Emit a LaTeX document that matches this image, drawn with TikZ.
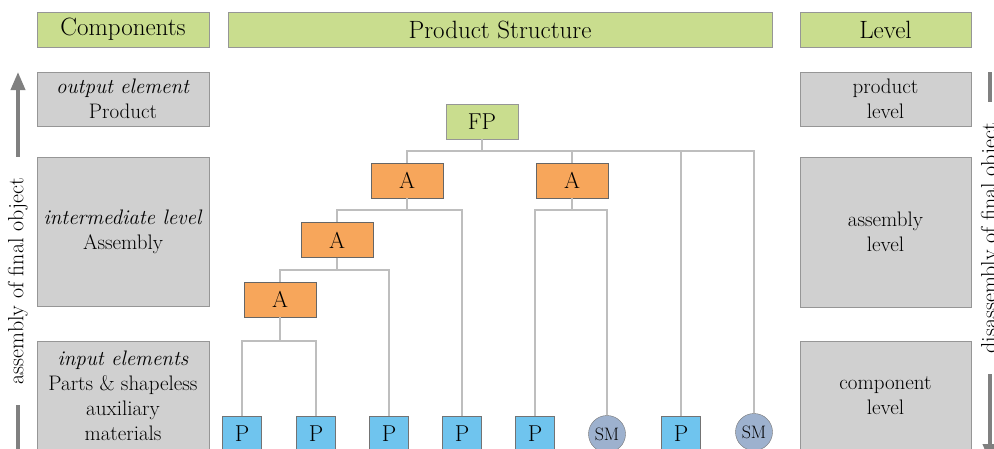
\documentclass[tikz,border=0pt]{standalone}
\usetikzlibrary{arrows.meta}

\definecolor{headgreen}{RGB}{201,221,142}
\definecolor{boxgrey}{RGB}{208,208,208}
\definecolor{edgegrey}{RGB}{150,150,150}
\definecolor{asmorange}{RGB}{247,166,91}
\definecolor{partblue}{RGB}{111,196,238}
\definecolor{smblue}{RGB}{157,177,206}
\definecolor{linkgrey}{RGB}{190,190,190}
\definecolor{flowgrey}{RGB}{128,128,128}

\tikzset{
  headbox/.style={draw=edgegrey,fill=headgreen,minimum height=35pt,inner sep=0pt,
    font=\fontsize{25}{28}\selectfont},
  greybox/.style={draw=edgegrey,fill=boxgrey,inner sep=0pt,align=center,
    font=\fontsize{21}{25}\selectfont},
  asmbox/.style={draw=black!60,fill=asmorange,minimum width=72pt,minimum height=35pt,
    inner sep=0pt,font=\fontsize{23}{24}\selectfont},
  partbox/.style={draw=black!55,fill=partblue,minimum width=39pt,minimum height=35pt,
    inner sep=0pt,font=\fontsize{23}{24}\selectfont},
  smcirc/.style={circle,draw=black!55,fill=smblue,minimum size=37pt,inner sep=0pt,
    font=\fontsize{18}{20}\selectfont},
  link/.style={draw=linkgrey,line width=1.5pt},
  flow/.style={draw=flowgrey,line width=3.8pt,-{Triangle[length=18pt,width=14pt]}},
  flowtext/.style={fill=white,rotate=90,inner xsep=21pt,inner ysep=0pt,
    font=\fontsize{22}{24}\selectfont}
}

\begin{document}
\begin{tikzpicture}[x=1pt,y=-1pt]
\useasboundingbox (0,0) rectangle (994,448);

% headers
\node[headbox,minimum width=172pt] (hcomp) at (123,29.5) {Components};
\node[headbox,minimum width=544pt] (hprod) at (500,29.5) {Product Structure};
\node[headbox,minimum width=171pt] (hlev) at (885.5,29.5) {Level};

% left column
\node[greybox,minimum width=172pt,minimum height=54pt] (cout) at (123,99)
  {\textit{output element}\\Product};
\node[greybox,minimum width=172pt,minimum height=149pt] (cmid) at (123,231.5)
  {\textit{intermediate level}\\Assembly};
\node[greybox,minimum width=172pt,minimum height=109pt] (cin) at (123,395.5)
  {\textit{input elements}\\Parts \& shapeless\\auxiliary\\materials};

% right column
\node[greybox,minimum width=171pt,minimum height=54pt] (lprod) at (885.5,99)
  {product\\level};
\node[greybox,minimum width=171pt,minimum height=150pt] (lasm) at (885.5,232)
  {assembly\\level};
\node[greybox,minimum width=171pt,minimum height=109pt] (lcomp) at (885.5,395.5)
  {component\\level};

% side arrows
\coordinate (upbot) at (18,470);
\coordinate (uptop) at (18,72);
\draw[flow] (upbot) -- (uptop);
\node[flowtext] (uptext) at (18,281) {assembly of final object};
\coordinate (dntop) at (990,72);
\coordinate (dnbot) at (990,462);
\draw[flow] (dntop) -- (dnbot);
\node[flowtext] (dntext) at (991,238) {disassembly of final object};

% tree
\node[headbox,minimum width=72pt,font=\fontsize{23}{24}\selectfont] (fp) at (482,121.5) {FP};
\node[asmbox] (a1) at (407,180.5) {A};
\node[asmbox] (a2) at (572,180.5) {A};
\node[asmbox] (a3) at (337,240) {A};
\node[asmbox] (a4) at (280,299.5) {A};

\node[partbox] (p1) at (242,433.5) {P};
\node[partbox] (p2) at (316,433.5) {P};
\node[partbox] (p3) at (389,433.5) {P};
\node[partbox] (p4) at (462,433.5) {P};
\node[partbox] (p5) at (535,433.5) {P};
\node[smcirc] (sm1) at (607,434) {SM};
\node[partbox] (p6) at (681,433.5) {P};
\node[smcirc] (sm2) at (754,432) {SM};

\foreach \c in {a1,a2,p6,sm2}
  \draw[link] (fp.south) -- ++(0,12) -| (\c.north);
\foreach \c in {a3,p4}
  \draw[link] (a1.south) -- ++(0,12) -| (\c.north);
\foreach \c in {p5,sm1}
  \draw[link] (a2.south) -- ++(0,12) -| (\c.north);
\foreach \c in {a4,p3}
  \draw[link] (a3.south) -- ++(0,12.5) -| (\c.north);
\foreach \c in {p1,p2}
  \draw[link] (a4.south) -- ++(0,24) -| (\c.north);
\end{tikzpicture}
\end{document}
